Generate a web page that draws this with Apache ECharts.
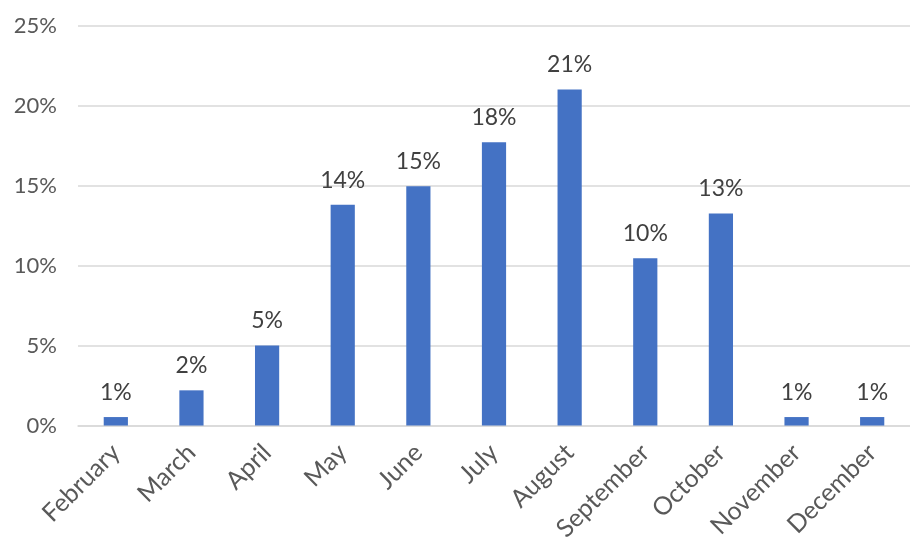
<!DOCTYPE html>
<html><head><meta charset="utf-8">
<script src="https://cdn.jsdelivr.net/npm/echarts@6/dist/echarts.min.js"></script>
<style>html,body{margin:0;padding:0;background:#fff}#c{width:910px;height:544px}</style>
</head><body><div id="c"></div>
<script>
const categories = ['February','March','April','May','June','July','August','September','October','November','December'];
const values = [0.53, 2.2, 5.0, 13.8, 14.95, 17.7, 21.0, 10.45, 13.25, 0.53, 0.53];
const yTicks = [0, 5, 10, 15, 20, 25];

const FONT = 'Lato, "Open Sans", sans-serif';
const chart = echarts.init(document.getElementById('c'));
chart.setOption({
  animation: false,
  grid: { left: 78, right: 0, top: 25.5, bottom: 117, containLabel: false },
  xAxis: {
    type: 'category', data: categories,
    axisLine: { lineStyle: { color: '#d9d9d9', width: 1.5 } },
    axisTick: { show: false },
    axisLabel: { rotate: 45, color: '#595959', fontSize: 25, fontFamily: FONT, margin: 23, interval: 0 }
  },
  yAxis: {
    type: 'value', min: yTicks[0], max: yTicks[yTicks.length-1], interval: 5,
    axisLine: { show: false }, axisTick: { show: false },
    splitLine: { lineStyle: { color: '#d9d9d9', width: 1.5 } },
    axisLabel: { color: '#595959', fontSize: 22, fontFamily: FONT, margin: 21, formatter: v => v + '%' }
  },
  series: [{
    type: 'bar', data: values, barWidth: '32%',
    itemStyle: { color: '#4472c4' },
    label: { show: true, position: 'top', distance: 13, color: '#404040', fontSize: 23, fontFamily: FONT,
      formatter: p => Math.round(p.value) + '%' }
  }]
});
</script></body></html>
